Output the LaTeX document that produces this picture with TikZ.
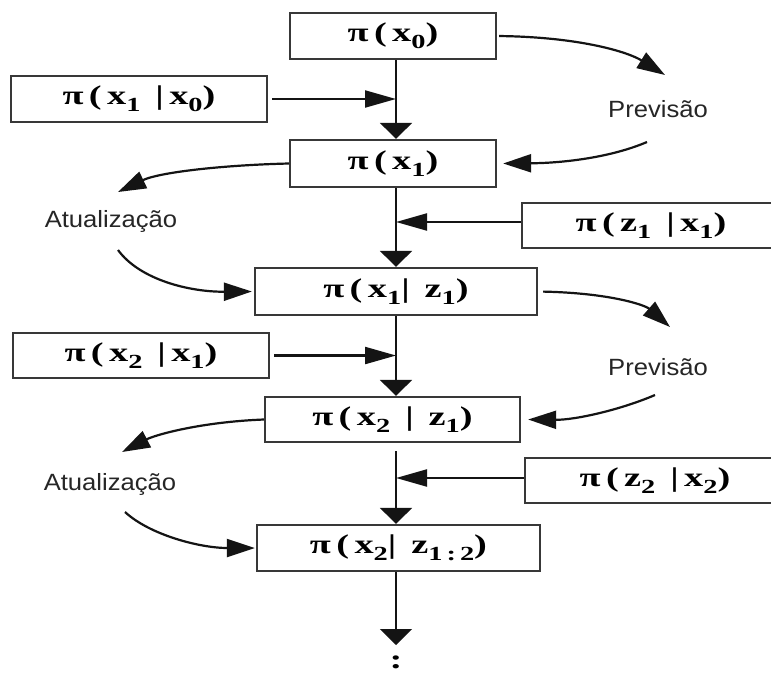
\documentclass[tikz,border=0pt]{standalone}
\usepackage{fontspec}
\setmainfont{Liberation Sans}
\newfontfamily\formfont[FakeStretch=1.42,LetterSpace=20]{Liberation Serif}
\newfontfamily\lblfont[FakeStretch=1.09]{Liberation Sans}
\usetikzlibrary{arrows.meta}
\newcommand\sbs[1]{\raisebox{-7pt}{\fontsize{20}{20}\selectfont #1}}
\newcommand\frm[1]{{\formfont\bfseries\fontsize{27}{27}\selectfont #1}}
\begin{document}
\begin{tikzpicture}[x=1pt,y=-1pt,
  box/.style={draw=black!78, line width=2.3pt, inner sep=0pt, text=black},
  ln/.style={line width=2.2pt, draw=black!92},
  varr/.style={ln, -{Triangle[width=32pt,length=16pt]}},
  harr/.style={ln, -{Triangle[width=17pt,length=31pt]}},
  carr/.style={ln, -{Triangle[width=18pt,length=28pt]}},
  lbl/.style={font=\lblfont\fontsize{23.5}{24}\selectfont, text=black!85, inner sep=0pt}
]
\useasboundingbox (0,0) rectangle (771,673);
\fill[white] (0,0) rectangle (771,673);
\coordinate (ax) at (396,0);

% boxes
\node[box, minimum width=206pt, minimum height=46pt] (A) at (393,36) {\frm{π(x\sbs{0})}};
\node[box, minimum width=256pt, minimum height=46pt] (B) at (139,99) {\frm{π(x\sbs{1} |x\sbs{0})}};
\node[box, minimum width=206pt, minimum height=47pt] (C) at (393,163.5) {\frm{π(x\sbs{1})}};
\node[box, minimum width=258pt, minimum height=45pt] (D) at (651,225.5) {\frm{π(z\sbs{1} |x\sbs{1})}};
\node[box, minimum width=282pt, minimum height=47pt] (E) at (396,291.5) {\frm{π(x\sbs{1}| z\sbs{1})}};
\node[box, minimum width=256pt, minimum height=45pt] (F) at (141,355.5) {\frm{π(x\sbs{2} |x\sbs{1})}};
\node[box, minimum width=255pt, minimum height=45pt] (G) at (392.5,419.5) {\frm{π(x\sbs{2} | z\sbs{1})}};
\node[box, minimum width=260pt, minimum height=45pt] (H) at (655,480.5) {\frm{π(z\sbs{2} |x\sbs{2})}};
\node[box, minimum width=283pt, minimum height=46pt] (I) at (398.5,548) {\frm{π(x\sbs{2}| z\sbs{1:2})}};
\node[inner sep=0pt] (dots) at (396,662) {\frm{:}};

% labels
\node[lbl] (P1) at (658,109) {Previsão};
\node[lbl] (U1) at (111,221) {Atualização};
\node[lbl] (P2) at (658,367) {Previsão};
\node[lbl] (U2) at (110,484) {Atualização};

% free ends of curved connectors
\coordinate (p1in) at (665,75);
\coordinate (p1out) at (647,142);
\coordinate (u1in) at (118,192);
\coordinate (u1out) at (118,250);
\coordinate (p2in) at (670,327);
\coordinate (p2out) at (655,395);
\coordinate (u2in) at (122,452);
\coordinate (u2out) at (125,512);
\coordinate (tail) at (396,645);

% main chain
\draw[varr] (A.south -| ax) -- (C.north -| ax);
\draw[varr] (C.south -| ax) -- (E.north -| ax);
\draw[varr] (E.south -| ax) -- (G.north -| ax);
\draw[varr, shorten <=8pt] (G.south -| ax) -- (I.north -| ax);
\draw[varr] (I.south -| ax) -- (tail);

% side inputs
\draw[harr, shorten <=4pt] (B.east) -- (B.east -| ax);
\draw[harr] ([yshift=3.5pt]D.west) -- ([yshift=3.5pt]D.west -| ax);
\draw[harr, shorten <=4pt] (F.east) -- (F.east -| ax);
\draw[harr] ([yshift=2.5pt]H.west) -- ([yshift=2.5pt]H.west -| ax);

% curved connectors
\draw[carr, shorten <=2pt] (A.east) .. controls (580,37) and (628,52) .. (p1in);
\draw[carr] (p1out) .. controls (612,157) and (565,163) .. ([xshift=6pt]C.east);
\draw[carr] (C.west) .. controls (225,165) and (160,172) .. (u1in);
\draw[carr] (u1out) .. controls (140,280) and (190,292) .. ([xshift=-2pt]E.west);
\draw[carr, shorten <=5pt] (E.east) .. controls (610,293) and (645,305) .. (p2in);
\draw[carr] (p2out) .. controls (620,410) and (575,420) .. ([xshift=7pt]G.east);
\draw[carr] (G.west) .. controls (200,422) and (155,435) .. (u2in);
\draw[carr] (u2out) .. controls (150,535) and (200,548) .. ([xshift=-1pt]I.west);
\end{tikzpicture}
\end{document}
